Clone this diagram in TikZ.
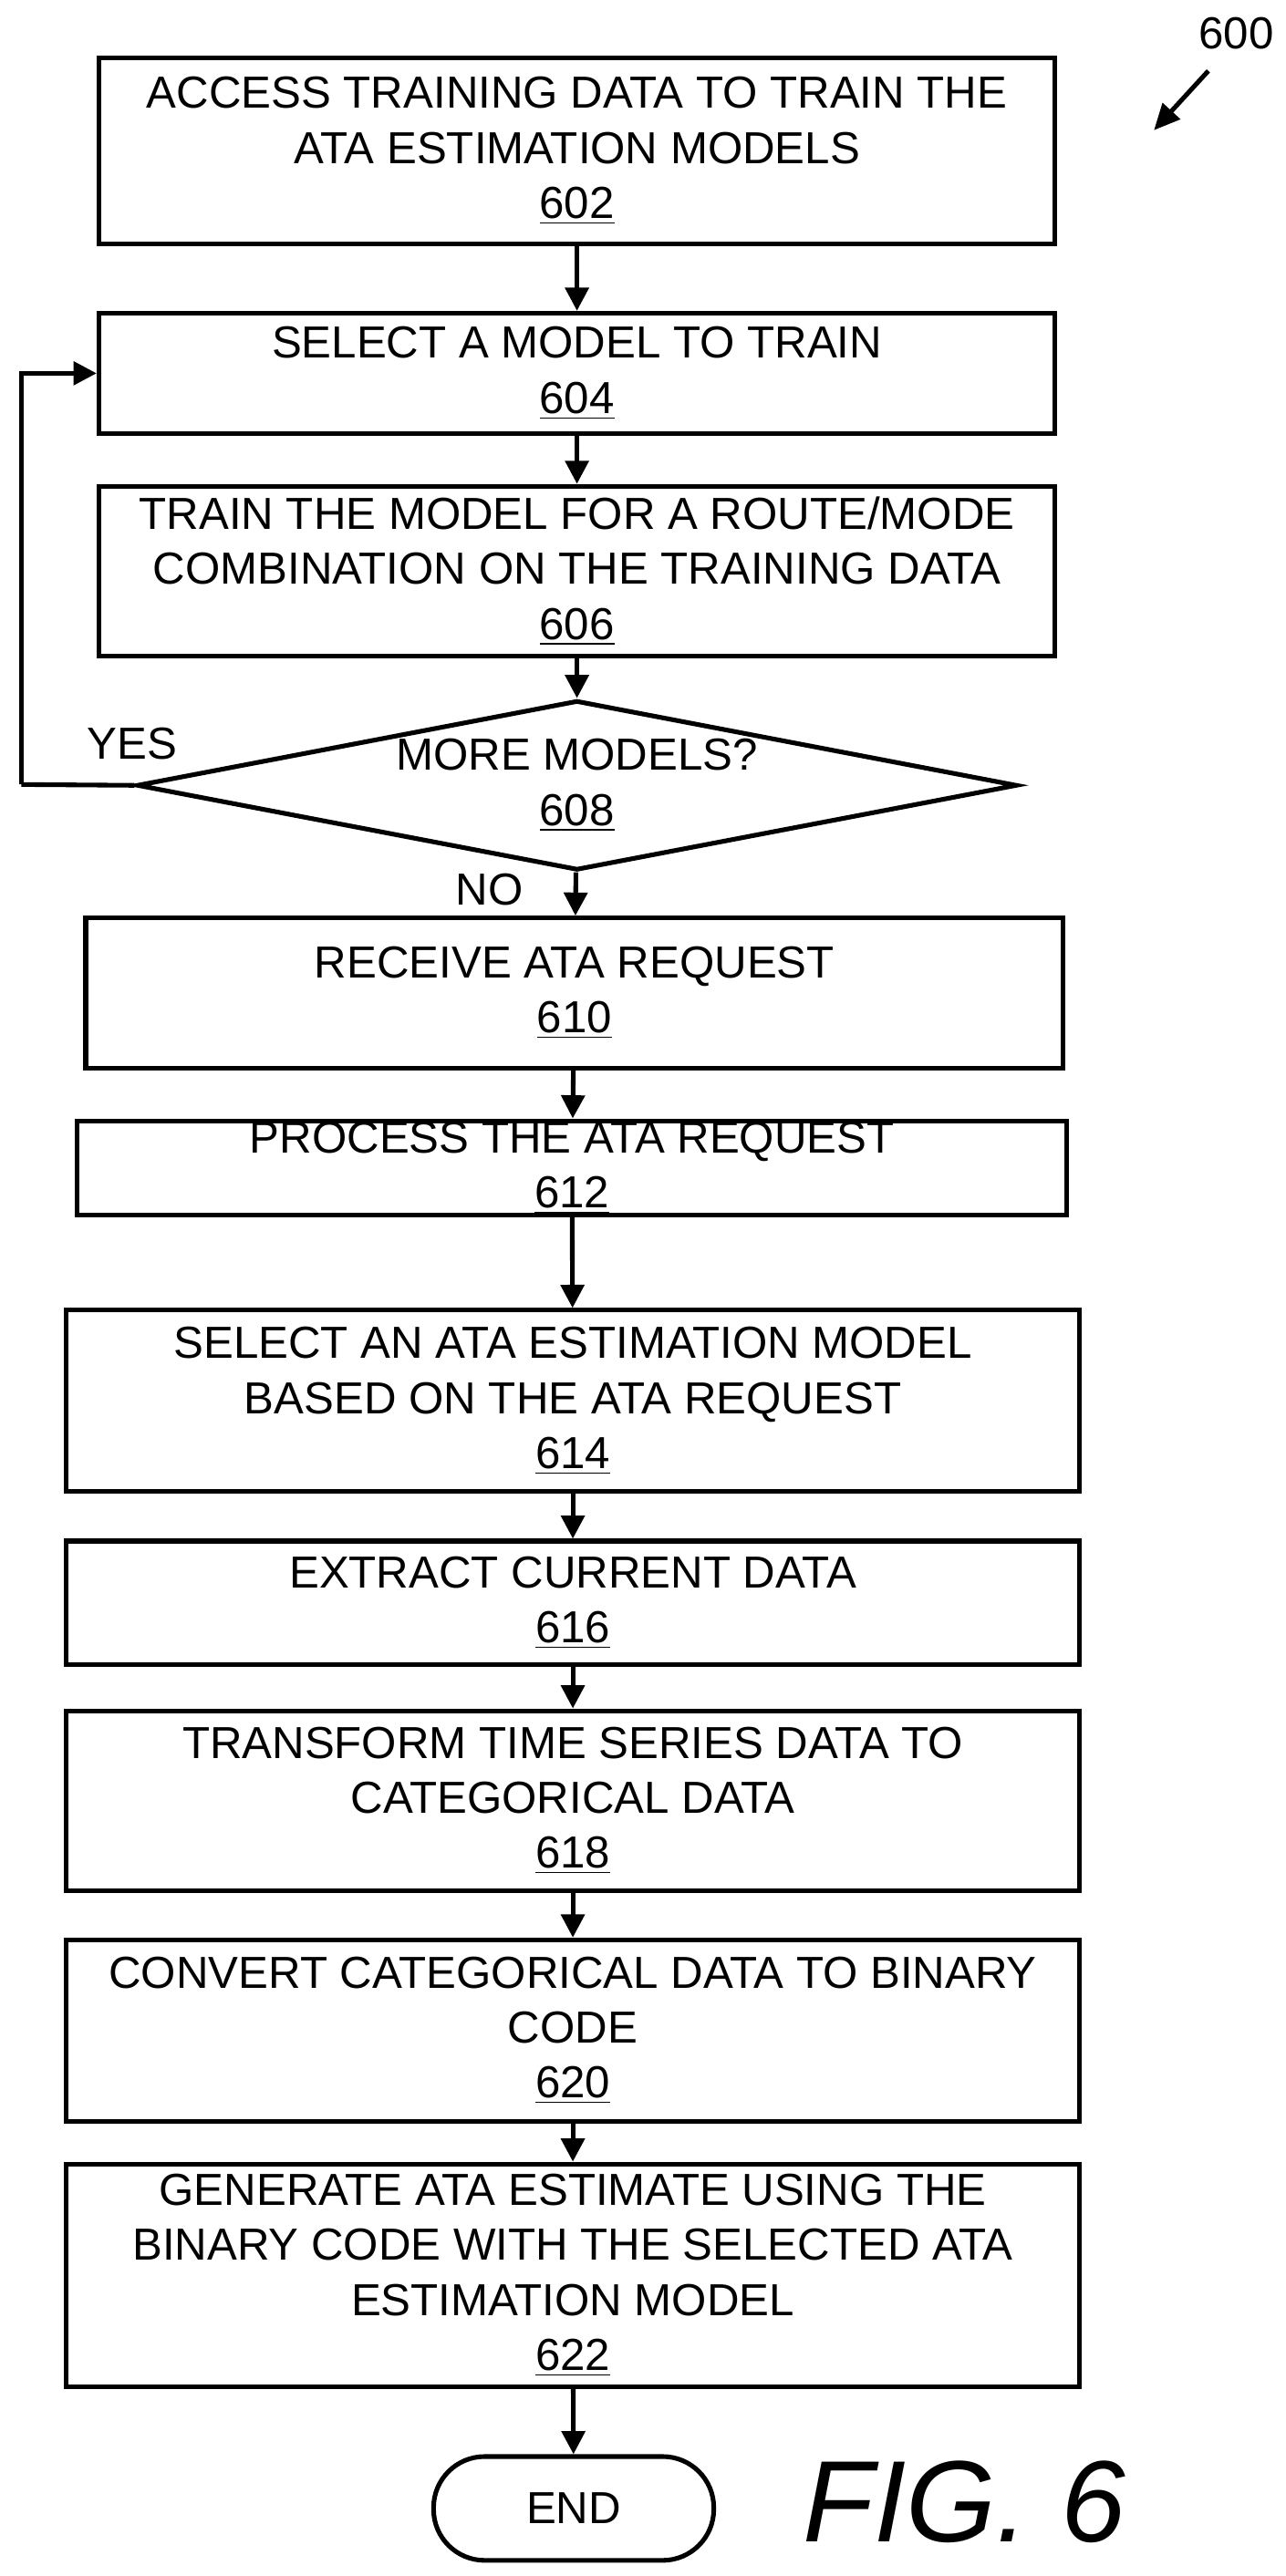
\documentclass[tikz,border=0pt]{standalone}
\usepackage{fontspec}
\setmainfont{Liberation Sans}
\usetikzlibrary{positioning,shapes.geometric,arrows.meta}
\tikzstyle{flowbox} = [rectangle, draw, line width=1.6pt, text centered, align=center, inner sep=0pt, %
   font=\fontsize{15.5}{19}\selectfont]
\tikzstyle{line} = [draw, line width=1.6pt, -{Triangle[length=8pt,width=8pt]}]
\newcommand{\num}[1]{\underline{#1}}

\begin{document}
\begin{tikzpicture}[x=0.02cm,y=-0.02cm]
   \useasboundingbox (0,0) rectangle (780,1563);
   % steps
   \node[flowbox, minimum width=580*0.02cm, minimum height=113*0.02cm] (access) at (350,91.5)
      {ACCESS TRAINING DATA TO TRAIN THE\\ATA ESTIMATION MODELS\\\num{602}};
   \node[flowbox, minimum width=580*0.02cm, minimum height=73*0.02cm] (select) at (350,226.5)
      {SELECT A MODEL TO TRAIN\\\num{604}};
   \node[flowbox, minimum width=580*0.02cm, minimum height=103*0.02cm] (train) at (350,346.5)
      {TRAIN THE MODEL FOR A ROUTE/MODE\\COMBINATION ON THE TRAINING DATA\\\num{606}};
   \node[diamond, draw, line width=1.6pt, aspect=5.2, inner sep=0pt, minimum width=534*0.02cm,
      minimum height=103*0.02cm, align=center, font=\fontsize{15.5}{19}\selectfont] (more) at (350,476.5)
      {MORE MODELS?\\\num{608}};
   \node[flowbox, minimum width=593*0.02cm, minimum height=91*0.02cm] (receive) at (348.5,602.5)
      {RECEIVE ATA REQUEST\\\num{610}};
   \node[flowbox, minimum width=600*0.02cm, minimum height=57*0.02cm] (process) at (347,708.5)
      {PROCESS THE ATA REQUEST\\\num{612}};
   \node[flowbox, minimum width=615*0.02cm, minimum height=110*0.02cm] (choose) at (347.5,850)
      {SELECT AN ATA ESTIMATION MODEL\\BASED ON THE ATA REQUEST\\\num{614}};
   \node[flowbox, minimum width=615*0.02cm, minimum height=75*0.02cm] (extract) at (347.5,972.5)
      {EXTRACT CURRENT DATA\\\num{616}};
   \node[flowbox, minimum width=615*0.02cm, minimum height=109*0.02cm] (transform) at (347.5,1092.5)
      {TRANSFORM TIME SERIES DATA TO\\CATEGORICAL DATA\\\num{618}};
   \node[flowbox, minimum width=615*0.02cm, minimum height=110*0.02cm] (convert) at (347.5,1232)
      {CONVERT CATEGORICAL DATA TO BINARY\\CODE\\\num{620}};
   \node[flowbox, minimum width=615*0.02cm, minimum height=135*0.02cm] (generate) at (347.5,1380.5)
      {GENERATE ATA ESTIMATE USING THE\\BINARY CODE WITH THE SELECTED ATA\\ESTIMATION MODEL\\\num{622}};
   \node[flowbox, rounded corners=31*0.02cm, minimum width=170*0.02cm, minimum height=63*0.02cm] (end) at (348,1522)
      {END};
   % labels
   \node[font=\fontsize{40}{44}\selectfont\itshape] (fig) at (585,1518) {FIG. 6};
   \node[font=\fontsize{15.5}{19}\selectfont] (ref) at (750,20) {600};
   \coordinate (refarrow) at (733,43);
   \node[font=\fontsize{15.5}{19}\selectfont] (yes) at (80,451) {YES};
   \node[font=\fontsize{15.5}{19}\selectfont] (no) at (297,540) {NO};
   \coordinate (loop) at (13,476);
   % edges
   \path [line] (access) -- (select);
   \path [line] (select) -- (train);
   \path [line] (train) -- (more);
   \path [line] (more) -- (receive);
   \path [line] (receive) -- (process);
   \path [line] (process) -- (choose);
   \path [line] (choose) -- (extract);
   \path [line] (extract) -- (transform);
   \path [line] (transform) -- (convert);
   \path [line] (convert) -- (generate);
   \path [line] (generate) -- (end);
   \path [draw, line width=1.6pt] (more.west) -- (loop);
   \path [line] (loop) |- (select.west);
   \path [draw, line width=1.6pt, -{Triangle[length=9pt,width=8pt]}] (refarrow) -- ++(-33,36);
\end{tikzpicture}
\end{document}
